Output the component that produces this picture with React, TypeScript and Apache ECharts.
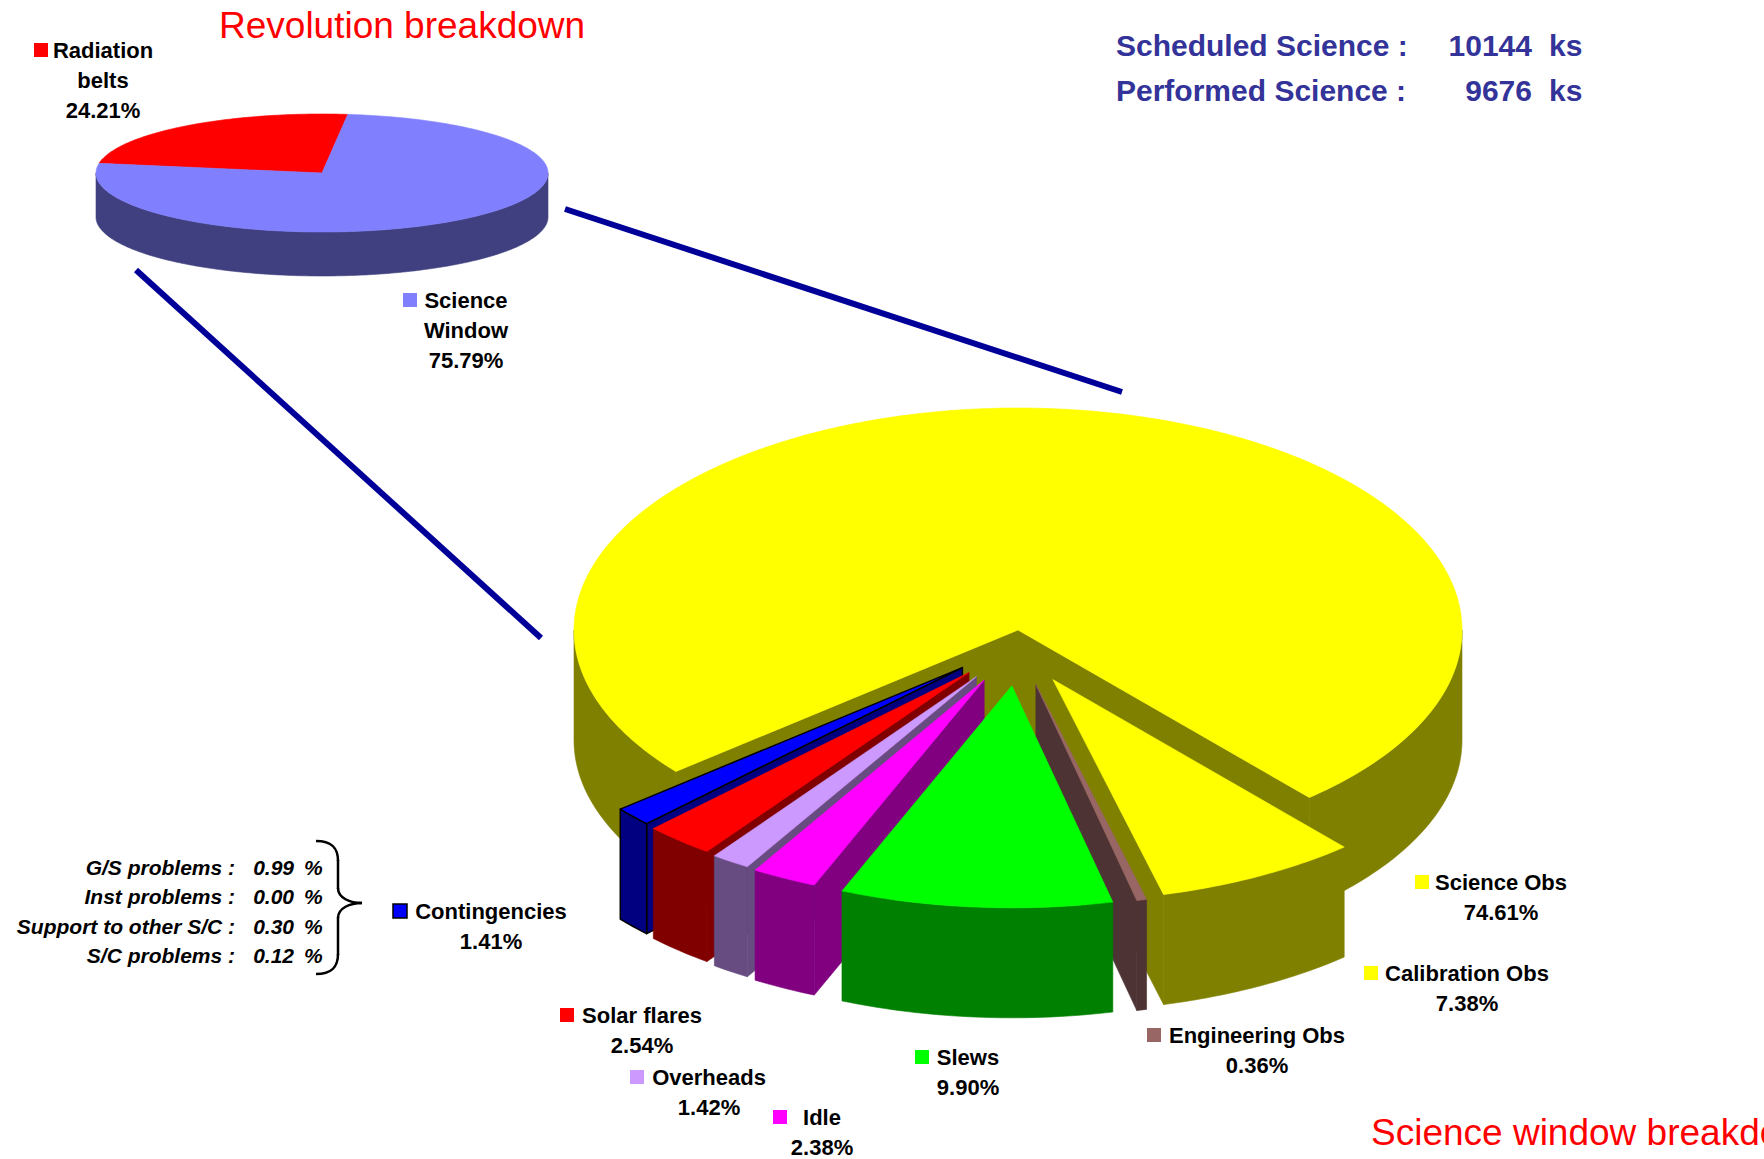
import React, { useEffect, useRef } from "react";
import * as echarts from "echarts";

// ---------------- DATA ----------------
const revNames = ["Radiation\nbelts", "Science\nWindow"];
const revValues = [24.21, 75.79];
const revTopColors = ["#FF0000", "#8080FF"];
const revSideColors = ["#800000", "#404080"];
const revExploded = [false, false];
const revOutlined = [false, false];

const swNames = [
  "Science Obs",
  "Calibration Obs",
  "Engineering Obs",
  "Slews",
  "Idle",
  "Overheads",
  "Solar flares",
  "Contingencies",
];
const swValues = [74.61, 7.38, 0.36, 9.9, 2.38, 1.42, 2.54, 1.41];
const swTopColors = ["#FFFF00", "#FFFF00", "#996666", "#00FF00", "#FF00FF", "#CC99FF", "#FF0000", "#0000FF"];
const swSideColors = ["#808000", "#808000", "#4D3333", "#008000", "#800080", "#664C80", "#800000", "#000080"];
const swExploded = [false, true, true, true, true, true, true, true];
const swOutlined = [false, false, false, false, false, false, false, true];

const contNames = ["G/S problems :", "Inst problems :", "Support to other S/C :", "S/C problems :"];
const contValues = [0.99, 0.0, 0.3, 0.12];

const statNames = ["Scheduled Science :", "Performed Science :"];
const statValues = [10144, 9676];
const statUnit = "ks";

const titleRev = "Revolution breakdown";
const titleSw = "Science window breakdown";

// ---------------- LAYOUT ----------------
type Pie = { cx: number; cy: number; rx: number; ry: number; depth: number; start: number; ex: number; ey: number };
const REV_PIE: Pie = { cx: 322, cy: 173, rx: 226, ry: 59, depth: 44, start: 170.6, ex: 0, ey: 0 };
const SW_PIE: Pie = { cx: 1018, cy: 630, rx: 444, ry: 222, depth: 110, start: 219.6, ex: 75, ey: 56 };

// [text centre x, first line centre y, key square left x]
const SW_LABEL_POS = [
  [1501, 882, 1415],
  [1467, 973, 1364],
  [1257, 1035, 1147],
  [968, 1057, 915],
  [822, 1117, 773],
  [709, 1077, 630],
  [642, 1015, 560],
  [491, 911, 393],
];
const REV_LABEL_POS = [
  [103, 50, 34],
  [466, 300, 403],
];

const RAD = Math.PI / 180;
const LABEL_FONT = 'bold 22px "Liberation Sans", Arial, sans-serif';
const LIST_FONT = 'italic bold 21px "Liberation Sans", Arial, sans-serif';
const STAT_FONT = 'bold 30px "Liberation Sans", Arial, sans-serif';
const TITLE_FONT = '37px "Liberation Sans", Arial, sans-serif';

function arcPts(P: Pie, dx: number, dy: number, a0: number, a1: number, z: number) {
  const n = Math.max(2, Math.ceil(Math.abs(a1 - a0)) + 1);
  const pts: number[][] = [];
  for (let k = 0; k < n; k++) {
    const t = (a0 + ((a1 - a0) * k) / (n - 1)) * RAD;
    pts.push([P.cx + dx + P.rx * Math.cos(t), P.cy + dy - P.ry * Math.sin(t) + z]);
  }
  return pts;
}

function makeRenderItem(
  P: Pie,
  values: number[],
  tops: string[],
  sides: string[],
  exploded: boolean[],
  outlined: boolean[]
) {
  const total = values.reduce((a, b) => a + b, 0);
  return (params: any, api: any) => {
    const i = params.dataIndex;
    const v = Number(api.value(0));
    let before = 0;
    for (let k = 0; k < i; k++) before += values[k];
    const s = P.start - (before / total) * 360;
    const e = s - (v / total) * 360;
    const mid = ((s + e) / 2) * RAD;
    const dx = exploded[i] ? P.ex * Math.cos(mid) : 0;
    const dy = exploded[i] ? -P.ey * Math.sin(mid) : 0;
    const c = [P.cx + dx, P.cy + dy];
    const layered = P.ex > 0;
    const base = layered ? Math.round((1 - Math.sin(mid)) * 1000) * 3 : 0;
    const children: any[] = [];
    const face = (pts: number[][], fill: string, z2: number) =>
      children.push({
        type: "polygon",
        z2,
        shape: { points: pts },
        style: {
          fill,
          stroke: outlined[i] ? "#000000" : fill,
          lineWidth: outlined[i] ? 1.5 : 0.6,
          lineJoin: "round",
        },
      });
    if (layered) {
      const radial = (a: number) => {
        const p = arcPts(P, dx, dy, a, a, 0)[0];
        face([c, p, [p[0], p[1] + P.depth], [c[0], c[1] + P.depth]], sides[i], base);
      };
      if (Math.cos(s * RAD) < 0) radial(s);
      if (Math.cos(e * RAD) > 0) radial(e);
    }
    for (let k = -1; k <= 2; k++) {
      const lo = Math.max(e, -180 + 360 * k);
      const hi = Math.min(s, 360 * k);
      if (hi > lo) {
        const top = arcPts(P, dx, dy, lo, hi, 0);
        const bot = arcPts(P, dx, dy, hi, lo, P.depth);
        face([...top, ...bot], sides[i], layered ? base + 1 : 1);
      }
    }
    face([c, ...arcPts(P, dx, dy, e, s, 0)], tops[i], layered ? base + 2 : 2);
    return { type: "group", children };
  };
}

function txt(x: number, y: number, text: string, font: string, fill: string, align = "left", vAlign = "middle", lineHeight?: number) {
  const style: any = { text, font, fill, align, verticalAlign: vAlign, textAlign: align, textVerticalAlign: vAlign };
  if (lineHeight) {
    style.lineHeight = lineHeight;
    style.textLineHeight = lineHeight;
  }
  return { type: "text", x, y, silent: true, style };
}

function buildGraphics() {
  const els: any[] = [];
  // connector lines
  els.push({ type: "line", z: -1, shape: { x1: 565, y1: 209, x2: 1122, y2: 392 }, style: { stroke: "#000099", lineWidth: 6 } });
  els.push({ type: "line", z: -1, shape: { x1: 136, y1: 270, x2: 541, y2: 638 }, style: { stroke: "#000099", lineWidth: 6 } });

  // titles
  els.push(txt(219, 25, titleRev, TITLE_FONT, "#FF0000"));
  els.push(txt(1371, 1132, titleSw, TITLE_FONT, "#FF0000"));

  // stats
  statNames.forEach((n, i) => {
    const y = 45 + i * 45;
    els.push(txt(1116, y, n, STAT_FONT, "#333399"));
    els.push(txt(1532, y, String(statValues[i]), STAT_FONT, "#333399", "right"));
    els.push(txt(1549, y, statUnit, STAT_FONT, "#333399"));
  });

  // pie labels
  const addLabel = (name: string, value: number, color: string, pos: number[], outlined: boolean) => {
    const [x, y, sq] = pos;
    els.push({
      type: "rect",
      shape: { x: sq, y: y - 7, width: 14, height: 14 },
      style: { fill: color, stroke: outlined ? "#000000" : color, lineWidth: outlined ? 1.5 : 0 },
    });
    els.push(txt(x, y - 15, `${name}\n${value.toFixed(2)}%`, LABEL_FONT, "#000000", "center", "top", 30));
  };
  swNames.forEach((n, i) => addLabel(n, swValues[i], swTopColors[i], SW_LABEL_POS[i], swOutlined[i]));
  revNames.forEach((n, i) => addLabel(n, revValues[i], revTopColors[i], REV_LABEL_POS[i], false));

  // contingencies breakdown
  contNames.forEach((n, i) => {
    const y = [867, 896, 926, 955][i];
    els.push(txt(235, y, n, LIST_FONT, "#000000", "right"));
    els.push(txt(294, y, contValues[i].toFixed(2), LIST_FONT, "#000000", "right"));
    els.push(txt(304, y, "%", LIST_FONT, "#000000"));
  });

  // brace
  const bs = { stroke: "#000000", lineWidth: 2.5, fill: "none" };
  els.push({ type: "bezierCurve", shape: { x1: 316, y1: 841, x2: 338, y2: 861, cpx1: 332, cpy1: 841, cpx2: 338, cpy2: 848 }, style: bs });
  els.push({ type: "line", shape: { x1: 338, y1: 860, x2: 338, y2: 889 }, style: bs });
  els.push({ type: "bezierCurve", shape: { x1: 338, y1: 888, x2: 362, y2: 903, cpx1: 338, cpy1: 898, cpx2: 350, cpy2: 903 }, style: bs });
  els.push({ type: "bezierCurve", shape: { x1: 362, y1: 903, x2: 338, y2: 918, cpx1: 350, cpy1: 903, cpx2: 338, cpy2: 908 }, style: bs });
  els.push({ type: "line", shape: { x1: 338, y1: 917, x2: 338, y2: 955 }, style: bs });
  els.push({ type: "bezierCurve", shape: { x1: 338, y1: 954, x2: 316, y2: 974, cpx1: 338, cpy1: 967, cpx2: 332, cpy2: 974 }, style: bs });
  return els;
}

export default function App() {
  const ref = useRef<HTMLDivElement>(null);
  useEffect(() => {
    if (!ref.current) return;
    const chart = echarts.init(ref.current, undefined, { renderer: "svg" });
    chart.setOption({
      animation: false,
      backgroundColor: "#FFFFFF",
      graphic: { elements: buildGraphics() },
      series: [
        {
          type: "custom",
          coordinateSystem: "none",
          silent: true,
          data: revValues.map((v, i) => ({ name: revNames[i], value: [v] })),
          renderItem: makeRenderItem(REV_PIE, revValues, revTopColors, revSideColors, revExploded, revOutlined),
        },
        {
          type: "custom",
          coordinateSystem: "none",
          silent: true,
          data: swValues.map((v, i) => ({ name: swNames[i], value: [v] })),
          renderItem: makeRenderItem(SW_PIE, swValues, swTopColors, swSideColors, swExploded, swOutlined),
        },
      ],
    });
    return () => chart.dispose();
  }, []);
  return (
    <div
      ref={ref}
      style={{ position: "absolute", left: 0, top: 0, width: 1764, height: 1159 }}
    />
  );
}
